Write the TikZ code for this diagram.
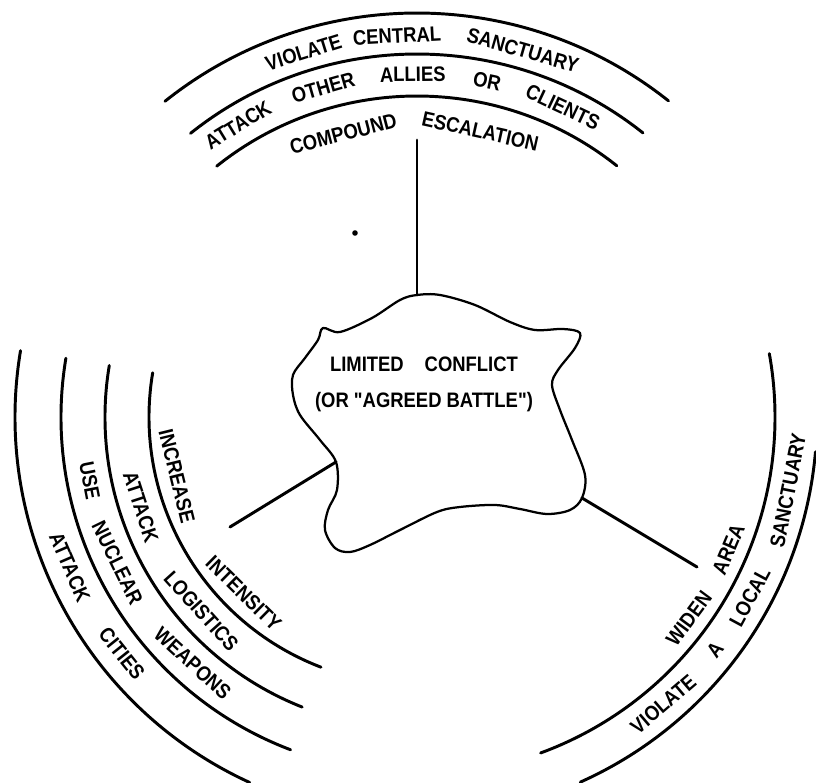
\documentclass[tikz,border=0pt]{standalone}
\usepackage{fontspec}
\usepackage{tikz}
\newfontfamily\letterfont{Liberation Sans}[FakeStretch=0.88]

\begin{document}
\begin{tikzpicture}[
    ring/.style={line width=2.1pt, line cap=round},
    spoke/.style={line width=2.1pt, line cap=round},
    blob/.style={line width=1.6pt, line join=round},
    ringword/.style={font=\letterfont\bfseries\fontsize{14.9}{18}\selectfont,
                     inner sep=0pt, text height=10.7pt, text depth=0pt},
    centrelabel/.style={font=\letterfont\bfseries\fontsize{14.9}{25.5}\selectfont,
                        inner sep=0pt, align=center}]
  \useasboundingbox (-10.425,-9.15) rectangle (9.975,10.425);
  \coordinate (topjoin) at (0,3.05);
  \coordinate (leftjoin) at (-2.025,-1.125);
  \coordinate (rightjoin) at (4.125,-2.025);
  \coordinate (topend) at (0,6.925);
  \coordinate (leftend) at (-4.675,-2.75);
  \coordinate (rightend) at (7.0,-3.75);

  \draw[blob] plot[smooth cycle, tension=0.55] coordinates {
      (topjoin) (0.575,3.05) (1.45,2.8) (2.325,2.375) (2.95,2.175) (3.65,2.2)
      (4.075,2.1) (3.95,1.725) (3.525,1.175) (3.375,0.8) (3.575,0.175)
      (3.875,-0.575) (4.2,-1.45) (rightjoin) (3.825,-2.325) (3.25,-2.425)
      (2.575,-2.3) (1.95,-2.2) (1.075,-2.25) (0.5,-2.375) (-0.425,-2.825)
      (-1.175,-3.2) (-1.675,-3.375) (-2.05,-3.275) (-2.3,-2.825) (-2.225,-2.325)
      (-2.0,-1.825) (leftjoin) (-2.425,-0.575) (-2.925,0.05) (-3.1,0.55)
      (-3.1,1.05) (-2.8,1.475) (-2.475,1.925) (-2.35,2.225) (-1.925,2.125)
      (-1.125,2.475) (-0.425,2.925)};
  \node[centrelabel] (conflict) at (0.175,0.825)
      {LIMITED\quad CONFLICT\\(OR "AGREED BATTLE")};

  \draw[spoke] (topjoin) -- (topend);
  \draw[spoke] (leftjoin) -- (leftend);
  \draw[spoke] (rightjoin) -- (rightend);
  \fill (-1.55,4.6) circle (0.07);

  \foreach \r in {10.1, 9.075, 8.025}
    \draw[ring] (128.6:\r) arc[start angle=128.6, end angle=51.5, radius=\r];
  \foreach \r/\e in {10.05/245.4, 8.9/249.2, 7.8/248.4, 6.7/249}
    \draw[ring] (170.5:\r) arc[start angle=170.5, end angle=\e, radius=\r];
  \draw[ring] (-69.8:8.95) arc[start angle=-69.8, end angle=10.2, radius=8.95];
  \draw[ring] (-65.9:10) arc[start angle=-65.9, end angle=-5, radius=10];

  \foreach \word/\ang [count=\i] in {VIOLATE/107.3, CENTRAL/93, SANCTUARY/73.9}
    \node[ringword, rotate=\ang-90] (topa-\i) at (\ang:9.55) {\word};
  \foreach \word/\ang [count=\i] in {ATTACK/121.5, OTHER/105.9, ALLIES/90.7, OR/78.2, CLIENTS/64.8}
    \node[ringword, rotate=\ang-90] (topb-\i) at (\ang:8.57) {\word};
  \foreach \word/\ang [count=\i] in {COMPOUND/104.6, ESCALATION/77.5}
    \node[ringword, rotate=\ang-90] (topc-\i) at (\ang:7.325) {\word};

  \foreach \word/\ang [count=\i] in {ATTACK/203.4, CITIES/218.7}
    \node[ringword, rotate=\ang+90] (lefta-\i) at (\ang:9.45) {\word};
  \foreach \word/\ang [count=\i] in {USE/191, NUCLEAR/206, WEAPONS/227.7}
    \node[ringword, rotate=\ang+90] (leftb-\i) at (\ang:8.325) {\word};
  \foreach \word/\ang [count=\i] in {ATTACK/198, LOGISTICS/222}
    \node[ringword, rotate=\ang+90] (leftc-\i) at (\ang:7.25) {\word};
  \foreach \word/\ang [count=\i] in {INCREASE/193.8, INTENSITY/225.5}
    \node[ringword, rotate=\ang+90] (leftd-\i) at (\ang:6.175) {\word};

  \foreach \word/\ang [count=\i] in {VIOLATE/-49.4, A/-38, LOCAL/-28.4, SANCTUARY/-11.2}
    \node[ringword, rotate=\ang+90] (righta-\i) at (\ang:9.45) {\word};
  \foreach \word/\ang [count=\i] in {WIDEN/-36.5, AREA/-23}
    \node[ringword, rotate=\ang+90] (rightb-\i) at (\ang:8.45) {\word};
\end{tikzpicture}
\end{document}
